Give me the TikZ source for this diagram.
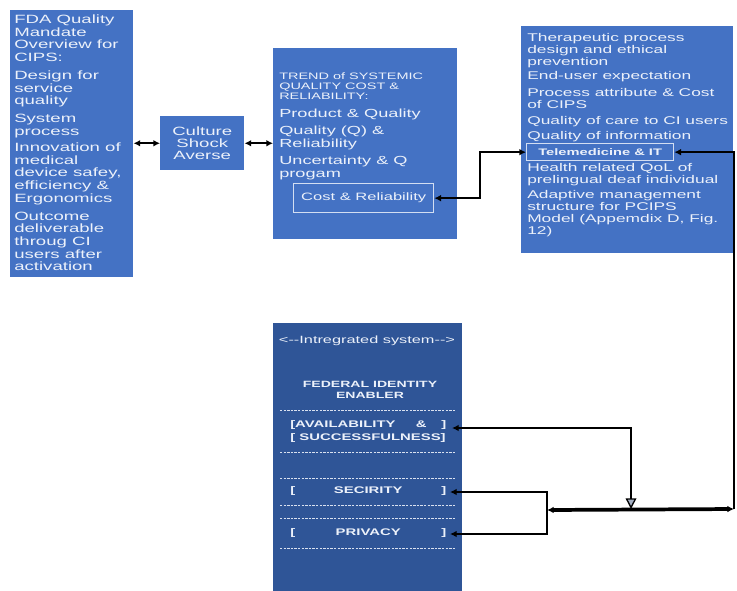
\documentclass[tikz,border=0pt]{standalone}
\usepackage{fontspec}
\newfontfamily\wsans[FakeStretch=1.55]{Liberation Sans}
\usetikzlibrary{arrows.meta}
\definecolor{boxblue}{RGB}{68,114,196}
\definecolor{darkblue}{RGB}{47,85,151}
\definecolor{txt}{RGB}{236,241,250}
\tikzset{
  box/.style={fill=boxblue, anchor=north west, inner sep=0pt, draw=none},
  dbox/.style={fill=darkblue, anchor=north west, inner sep=0pt},
  ibox/.style={draw=txt!85!boxblue, line width=1pt, anchor=north west, inner sep=0pt, text=txt},
  tnode/.style={text=txt, inner sep=0pt, align=left, anchor=north west},
  dashl/.style={draw=txt!90!darkblue, line width=0.6pt, dash pattern=on 1.8pt off 0.9pt},
  tip/.tip={Latex[length=5pt,width=5pt]},
  dbl/.style={line width=1.6pt, tip-tip},
  conn/.style={line width=2.2pt},
}
\begin{document}
\begin{tikzpicture}[x=0.75pt,y=-0.75pt]
\useasboundingbox (0,0) rectangle (737,590);
% boxes
\node[box, minimum width=92.25pt, minimum height=200.25pt] (lbox) at (10,10) {};
\node[box, minimum width=63pt, minimum height=40.5pt, text=txt, align=center,
      font=\wsans\fontsize{9}{8.7}\selectfont, anchor=north west] (cult) at (160,116) {Culture\\Shock\\Averse};
\node[box, minimum width=138pt, minimum height=143.25pt] (tbox) at (273,48) {};
\node[box, minimum width=159pt, minimum height=170.25pt] (rbox) at (521,26) {};
\node[dbox, minimum width=141.75pt, minimum height=201pt] (ibx) at (273,323) {};
% left box text
\node[tnode, font=\wsans\fontsize{9}{9.5}\selectfont] (ltxt) at (14,14.5)
 {FDA Quality\\Mandate\\Overview for\\CIPS:\\[4pt]Design for\\service\\quality\\[4pt]System\\process\\[2.5pt]Innovation of\\medical\\device safey,\\efficiency \&\\Ergonomics\\[4pt]Outcome\\deliverable\\throug CI\\users after\\activation};
% trend box text
\node[tnode, font=\wsans\fontsize{7}{7.6}\selectfont] (thead) at (279,72)
 {TREND of SYSTEMIC\\QUALITY COST \&\\RELIABILITY:};
\node[tnode, font=\wsans\fontsize{8.8}{9.75}\selectfont] (tmain) at (279,108.5)
 {Product \& Quality\\[3pt]Quality (Q) \&\\Reliability\\[3pt]Uncertainty \& Q\\progam};
\node[ibox, minimum width=105pt, minimum height=21.75pt, font=\wsans\fontsize{8}{9}\selectfont] (cost) at (293,183) {Cost \& Reliability};
% right box text
\node[tnode, font=\wsans\fontsize{8.4}{9}\selectfont] (rtop) at (527,33)
 {Therapeutic process\\design and ethical\\prevention\\[1.5pt]End-user expectation\\[3.5pt]Process attribute \& Cost\\of CIPS\\[3pt]Quality of care to CI users\\[2.25pt]Quality of information};
\node[ibox, minimum width=110.25pt, minimum height=12.75pt, font=\wsans\bfseries\fontsize{7.1}{8}\selectfont] (tele) at (526,143) {Telemedicine \& IT};
\node[tnode, font=\wsans\fontsize{8.4}{9}\selectfont] (rbot) at (527,163)
 {Health related QoL of\\prelingual deaf individual\\[2.25pt]Adaptive management\\structure for PCIPS\\Model (Appemdix D, Fig.\\12)};
% integrated system text
\node[text=txt, inner sep=0pt, font=\wsans\fontsize{7.9}{8}\selectfont] (isys) at (367,341) {<-{}-Intregrated system-{}->};
\node[text=txt, inner sep=0pt, align=center, font=\wsans\bfseries\fontsize{6.8}{8.2}\selectfont] (fed) at (370,389.5) {FEDERAL IDENTITY\\ENABLER};
\node[tnode, font=\wsans\bfseries\fontsize{7.2}{9.75}\selectfont] (avail) at (290,420.5)
 {\makebox[117pt][l]{[AVAILABILITY\hfill\&\hspace{11pt}]}\\{[}\ SUCCESSFULNESS]};
\node[text=txt, inner sep=0pt, anchor=west, font=\wsans\bfseries\fontsize{7.2}{9}\selectfont] (secu) at (290,491)
 {\makebox[117pt]{[\hfill SECIRITY\hfill]}};
\node[text=txt, inner sep=0pt, anchor=west, font=\wsans\bfseries\fontsize{7.2}{9}\selectfont] (priv) at (290,533)
 {\makebox[117pt]{[\hfill PRIVACY\hfill]}};
\foreach \yy in {410,452,478,505,518,548} \draw[dashl] (280,\yy) -- (456,\yy);
% junction coordinates
\coordinate (j1) at (480,197);
\coordinate (rb) at (734,509);
\coordinate (ml) at (547,510);
\coordinate (avc) at (631,428);
\coordinate (avt) at (631,509);
\coordinate (bt) at (547,492);
\coordinate (bb) at (547,534);
\coordinate (avend) at (452,428);
\coordinate (secend) at (450,492);
\coordinate (privend) at (450,534);
% connectors
\draw[dbl] (cult.west -| lbox.east) -- (cult.west);
\draw[dbl] (cult.east) -- (cult.east -| tbox.west);
\draw[dbl] (cost.east) -- (cost.east -| j1) -- (j1 |- tele.west) -- (tele.west);
\draw[line width=1.8pt, -tip] (rb) -- (rb |- tele.east) -- (tele.east);
\draw[line width=2.8pt, tip-tip] (ml) -- (rb);
\draw[conn, tip-{Triangle[open,length=8pt,width=8pt,line width=1pt,fill=boxblue!40!gray!60]}] (avend) -- (avc) -- (avt);
\draw[conn, tip-tip] (secend) -- (bt) -- (bb) -- (privend);
\end{tikzpicture}
\end{document}
